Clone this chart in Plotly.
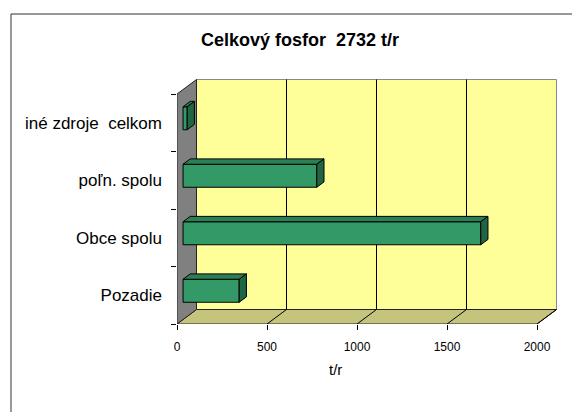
import plotly.graph_objects as go

# ---- data ----
categories = ["Pozadie", "Obce spolu", "poľn. spolu", "iné zdroje  celkom"]
values = [312, 1654, 743, 23]
x_ticks = [0, 500, 1000, 1500, 2000]
title_text = "<b>Celkový fosfor  2732 t/r</b>"
axis_title = "t/r"

# ---- geometry (pixels of the figure) ----
W, H = 572, 412
L_PX, R_PX, T_PX, B_PX = 177, 566, 70, 324
PX_PER_UNIT = 0.18          # horizontal pixels per t/r
PX_PER_CAT = 57.5           # vertical pixels per category band
DEPTH_PX_X, DEPTH_PX_Y = 19.5, 14.5
X_MAX = x_ticks[-1]
N = len(categories)

DX = DEPTH_PX_X / PX_PER_UNIT
DY = DEPTH_PX_Y / PX_PER_CAT
x_range = [0, (R_PX - L_PX) / PX_PER_UNIT]
y_range = [0, (B_PX - T_PX) / PX_PER_CAT]
F0, F1 = 0.31, 0.68        # bar depth (front / back fraction)
BW = 0.4                    # bar thickness in category units

WALL = "#FFFF99"
FLOOR = "#C4C47C"
SIDE = "#808080"
BAR_FRONT = "#339966"
BAR_TOP = "#2B7F55"
BAR_SIDE = "#1F6644"

def px_to_paper_x(px):
    return (px - L_PX) / (R_PX - L_PX)

def px_to_paper_y(py):
    return (B_PX - py) / (B_PX - T_PX)

def poly(pts):
    return "M " + " L ".join(f"{x},{y}" for x, y in pts) + " Z"

shapes = []
# back wall
shapes.append(dict(type="path", xref="x", yref="y", layer="below",
                   path=poly([(DX, DY), (X_MAX + DX, DY), (X_MAX + DX, N + DY), (DX, N + DY)]),
                   fillcolor=WALL, line=dict(color="#8a8a8a", width=1)))
# floor
shapes.append(dict(type="path", xref="x", yref="y", layer="below",
                   path=poly([(0, 0), (X_MAX, 0), (X_MAX + DX, DY), (DX, DY)]),
                   fillcolor=FLOOR, line=dict(color="#222222", width=1)))
# side wall
shapes.append(dict(type="path", xref="x", yref="y", layer="below",
                   path=poly([(0, 0), (DX, DY), (DX, N + DY), (0, N)]),
                   fillcolor=SIDE, line=dict(color="#222222", width=1)))
# gridlines on back wall and floor
for t in x_ticks[1:-1]:
    shapes.append(dict(type="line", xref="x", yref="y", layer="below",
                       x0=t + DX, y0=DY, x1=t + DX, y1=N + DY,
                       line=dict(color="#000000", width=1)))
for t in x_ticks[1:]:
    shapes.append(dict(type="line", xref="x", yref="y", layer="below",
                       x0=t, y0=0, x1=t + DX, y1=DY,
                       line=dict(color="#000000", width=1)))
# outer chart border
shapes.append(dict(type="rect", xref="paper", yref="paper", layer="above",
                   x0=px_to_paper_x(11), x1=px_to_paper_x(W + 5),
                   y0=px_to_paper_y(H + 5), y1=px_to_paper_y(14),
                   line=dict(color="#333333", width=1), fillcolor="rgba(0,0,0,0)"))

fig = go.Figure()

centers = [i + 0.5 for i in range(N)]

# front faces of bars
fig.add_trace(go.Bar(
    orientation="h",
    x=values,
    y=[c + F0 * DY for c in centers],
    base=[F0 * DX] * N,
    width=BW,
    marker=dict(color=BAR_FRONT, line=dict(color="#000000", width=1)),
    hoverinfo="skip",
    showlegend=False,
))

# top and end faces of bars
for c, v in zip(centers, values):
    top = [(F0 * DX, c + BW / 2 + F0 * DY), (v + F0 * DX, c + BW / 2 + F0 * DY),
           (v + F1 * DX, c + BW / 2 + F1 * DY), (F1 * DX, c + BW / 2 + F1 * DY),
           (F0 * DX, c + BW / 2 + F0 * DY)]
    end = [(v + F0 * DX, c - BW / 2 + F0 * DY), (v + F1 * DX, c - BW / 2 + F1 * DY),
           (v + F1 * DX, c + BW / 2 + F1 * DY), (v + F0 * DX, c + BW / 2 + F0 * DY),
           (v + F0 * DX, c - BW / 2 + F0 * DY)]
    for pts, col in ((top, BAR_TOP), (end, BAR_SIDE)):
        fig.add_trace(go.Scatter(
            x=[p[0] for p in pts], y=[p[1] for p in pts],
            mode="lines", fill="toself", fillcolor=col,
            line=dict(color="#000000", width=1),
            hoverinfo="skip", showlegend=False,
        ))

FONT = "Liberation Sans, Arial, sans-serif"

fig.update_layout(
    width=W, height=H,
    margin=dict(l=L_PX, r=W - R_PX, t=T_PX, b=H - B_PX, autoexpand=False),
    paper_bgcolor="white",
    plot_bgcolor="white",
    font=dict(family=FONT, color="#000000"),
    title=dict(text=title_text, x=300 / W, xref="container", xanchor="center",
               y=1 - 40 / H, yref="container", yanchor="middle",
               font=dict(family=FONT, size=18, color="#000000")),
    shapes=shapes,
    barmode="overlay",
    xaxis=dict(range=x_range, tickmode="array", tickvals=x_ticks,
               ticks="outside", ticklen=5, tickcolor="#000000", tickwidth=1,
               showline=False, showgrid=False, zeroline=False,
               ticklabelstandoff=7,
               tickfont=dict(family=FONT, size=12, color="#000000"),
               fixedrange=True),
    yaxis=dict(range=y_range, tickmode="array", tickvals=centers, ticktext=categories,
               ticks="", showline=False, showgrid=False, zeroline=False,
               ticklabelstandoff=14,
               minor=dict(tickmode="array", tickvals=list(range(N + 1)), ticks="outside",
                          ticklen=5, tickcolor="#000000", tickwidth=1, showgrid=False),
               tickfont=dict(family=FONT, size=17, color="#000000"),
               fixedrange=True),
    annotations=[dict(text=axis_title, xref="paper", yref="paper",
                      x=px_to_paper_x(335), y=px_to_paper_y(369),
                      xanchor="center", yanchor="middle", showarrow=False,
                      font=dict(family=FONT, size=15, color="#000000"))],
)

fig.write_html("out.html", config={"displayModeBar": False},
               post_script="document.body.style.margin='0';document.body.style.overflow='hidden';")
